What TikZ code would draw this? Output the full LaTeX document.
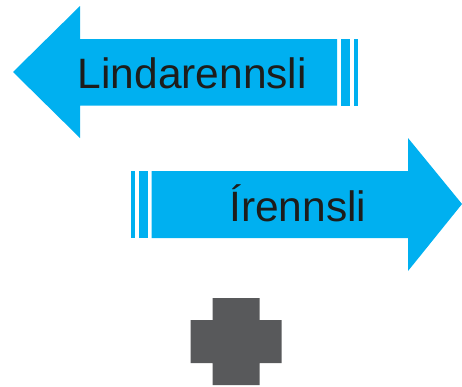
\documentclass[tikz,border=0pt]{standalone}
\usepackage{fontspec}
\setmainfont{Liberation Sans}
\definecolor{arrowblue}{HTML}{00B0F0}
\definecolor{plusgray}{HTML}{58595B}
\definecolor{labelink}{HTML}{1D1D1B}
\tikzset{
  bluefill/.style={fill=arrowblue,draw=none},
  arrowlabel/.style={inner sep=0pt,anchor=base west,text=labelink,font=\fontsize{42.5}{42.5}\selectfont},
}
\begin{document}
\begin{tikzpicture}[x=1pt,y=-1pt]
\useasboundingbox (0,0) rectangle (462,386);
% upper arrow
\path[bluefill] (13,72) -- (80,6) -- (80,39) -- (337,39) -- (337,105.5) -- (80,105.5) -- (80,138) -- cycle;
\path[bluefill] (341,39) rectangle (349.5,105.5);
\path[bluefill] (354,39) rectangle (358,105.5);
\node[arrowlabel] (lind) at (77.5,88) {Lindarennsli};
% lower arrow
\path[bluefill] (462,204) -- (408,138) -- (408,171) -- (151.5,171) -- (151.5,238) -- (408,238) -- (408,271) -- cycle;
\path[bluefill] (139,171) rectangle (147.5,238);
\path[bluefill] (131,171) rectangle (135,238);
\node[arrowlabel] (iren) at (229,221) {Írennsli};
% plus
\path[fill=plusgray] (212.5,298) -- (259.5,298) -- (259.5,320) -- (281.5,320) -- (281.5,363) -- (259.5,363) -- (259.5,385) -- (212.5,385) -- (212.5,363) -- (190.5,363) -- (190.5,320) -- (212.5,320) -- cycle;
\end{tikzpicture}
\end{document}
